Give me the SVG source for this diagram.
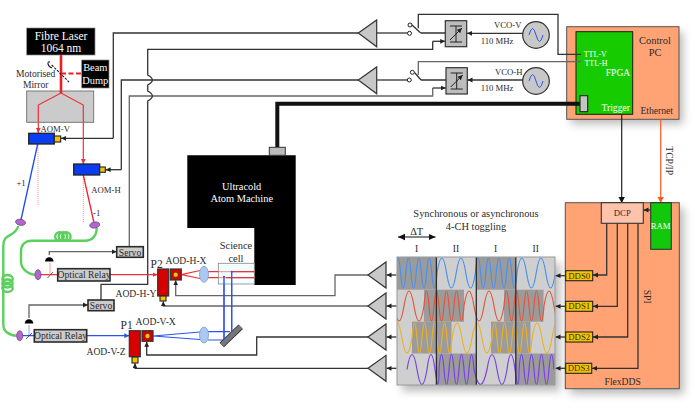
<svg xmlns="http://www.w3.org/2000/svg" width="695" height="409" viewBox="0 0 695 409">
<style>
text{font-family:"Liberation Serif","DejaVu Serif",serif;font-size:9.6px;fill:#2b2b2b;text-anchor:middle}
.w{fill:#fff}
.big{font-size:11.5px}
.lab{font-size:10.4px}
.s{font-size:8.7px}
.t{font-size:8px}
.c{fill:none;stroke:#333;stroke-width:1.3}
.cg{fill:none;stroke:#666;stroke-width:1.3}
.a{marker-end:url(#ak)}
.tri{fill:#c8c8c8;stroke:#333;stroke-width:1.2}
.box{fill:#ccc;stroke:#2a2a2a;stroke-width:1.6}
.red{fill:#d60000;stroke:#333;stroke-width:1.2}
.yel{fill:#f5c400;stroke:#222;stroke-width:1.1}
.blue{fill:#0a3cf0;stroke:#222;stroke-width:1.3}
.ov{fill:#b565cf;stroke:#6a4a80;stroke-width:.8}
.lens{fill:#a9c8f2;stroke:#7d9fd0;stroke-width:.8}
.r{fill:none;stroke:#f03038;stroke-width:1.2}
.b{fill:none;stroke:#2a52f0;stroke-width:1.2}
.fib{fill:none;stroke:#5ccf5c;stroke-width:2.4}
.lt{fill:#cfcfcf}
.dk{fill:#9b9b9b}
.w1,.w2,.w3,.w4{fill:none;stroke-width:1.2}
.w1{stroke:#4a90ee}.w2{stroke:#e2563c}.w3{stroke:#eeb022}.w4{stroke:#7c40e6}
</style>
<defs>
<marker id="ak" markerUnits="userSpaceOnUse" markerWidth="6" markerHeight="6" refX="5" refY="3" orient="auto"><path d="M0 .6L5 3L0 5.4z" fill="#222"/></marker>
<marker id="ar" markerUnits="userSpaceOnUse" markerWidth="6" markerHeight="6" refX="5" refY="3" orient="auto"><path d="M0 .6L5 3L0 5.4z" fill="#f03038"/></marker>
<marker id="ab" markerUnits="userSpaceOnUse" markerWidth="6" markerHeight="6" refX="5" refY="3" orient="auto"><path d="M0 .6L5 3L0 5.4z" fill="#2a52f0"/></marker>
<marker id="ao" markerUnits="userSpaceOnUse" markerWidth="8" markerHeight="8" refX="6" refY="4" orient="auto"><path d="M0 .8L6 4L0 7.2z" fill="#ff5a1e"/></marker>
<marker id="ak2" markerUnits="userSpaceOnUse" markerWidth="8" markerHeight="8" refX="6" refY="4" orient="auto"><path d="M0 .8L6 4L0 7.2z" fill="#111"/></marker>
<marker id="ds" markerUnits="userSpaceOnUse" markerWidth="8" markerHeight="8" refX="7" refY="4" orient="auto-start-reverse"><path d="M0 .8L7 4L0 7.2z" fill="#111"/></marker>
<filter id="sh" x="-20%" y="-20%" width="140%" height="140%"><feGaussianBlur stdDeviation="4"/></filter>
<clipPath id="pc"><rect x="397" y="257" width="158" height="128"/></clipPath>
</defs>

<g id="shadows" fill="#777" opacity=".5" filter="url(#sh)">
<rect x="571" y="32" width="112" height="92"/>
<rect x="570" y="208" width="114" height="186"/>
<rect x="402" y="263" width="158" height="128"/>
</g>

<g id="control-pc"><rect x="566.7" y="26.7" width="112.3" height="92.6" fill="#ffa274" stroke="#555" stroke-width="1"/>
<rect x="576" y="31.7" width="56.7" height="82.6" fill="#16cc00" stroke="#1a1a1a" stroke-width="1"/>
<text class="lab" x="655" y="43.5">Control</text><text class="lab" x="655" y="56">PC</text>
<text class="w" x="618" y="76">FPGA</text><text class="w t" x="595.3" y="56.5">TTL-V</text><text class="w t" x="596" y="66">TTL-H</text><text class="w" x="615.7" y="111">Trigger</text><text x="656.7" y="114">Ethernet</text></g>

<g id="connectors">
<path class="c" d="M358.3 33H113.3V138.3"/>
<path class="a c" d="M113.3 138.3H61"/>
<path class="c" d="M358.3 80H121.3V169.7"/>
<path class="a c" d="M121.3 169.7H105.6"/>
<path class="cg" d="M129.3 246.7V96H432.7V88"/>
<path class="a c" d="M432.7 88H445.8"/>
<path class="c" d="M101 300V284.3H147.7V101Q157 96 147.7 91V85Q157 80 147.7 75V49.3H432.7V41.3"/>
<path class="a c" d="M432.7 41.3H445.2"/>
<path d="M277.3 147V103.7H580" fill="none" stroke="#111" stroke-width="4"/>
<path class="c" d="M376.7 33H408"/>
<path class="c" d="M376.7 80H407.5"/>
<path class="c" d="M420.7 33H445.3M421 80H446"/>
<path class="c" d="M412 25L420.7 33M414.5 72.5L421 80"/>
<path class="c" d="M418.3 28.3V14.3H558V54.3H581"/>
<path class="cg" d="M418.3 75V61.7H581"/>
<path class="a c" d="M523 33.3H467"/>
<path class="a c" d="M523 80H467.5"/>
<path class="a cg" stroke-width="1.4" d="M368 275H335V295.7H175.7V280.3"/>
<path class="a cg" stroke-width="1.6" d="M368 306H163.3V301.3"/>
<path class="a c" d="M368 337H256.7V355H146.7V341.7"/>
<path class="a c" d="M368 368.3H135V363.3"/>
<path class="a c" d="M396.5 275H386.5"/><path class="a c" d="M396.5 306H386.5"/><path class="a c" d="M396.5 337H386.5"/><path class="a c" d="M396.5 368.3H386.5"/>
<path class="a c" d="M565.5 275.7H555.5"/><path class="a c" d="M565.5 306.3H555.5"/><path class="a c" d="M565.5 337H555.5"/><path class="a c" d="M565.5 368.3H555.5"/>
<path d="M621.7 114V203" fill="none" stroke="#222" stroke-width="1.2" marker-end="url(#ak2)"/>
<path d="M660.7 119V203" fill="none" stroke="#ff5a1e" stroke-width="1.2" marker-end="url(#ao)"/>
<path class="a cg" d="M49.3 255V251.7H116.7"/>
<path class="a cg" d="M29 318V305H88"/>
</g>
<rect id="trigger-port" x="580" y="95.7" width="7.7" height="16" fill="#c4c4c4" stroke="#222" stroke-width="1.1"/>

<g id="beams">
<path d="M61 55V93" stroke="#f01c24" stroke-width="2.6" fill="none"/>
<path d="M61 73.5H81" stroke="#f01c24" stroke-width="2" stroke-dasharray="5 2.5" fill="none"/>
<path class="r" d="M61 93L38.3 105V133" marker-end="url(#ar)"/>
<path class="r" d="M61 93L83.3 105V164" marker-end="url(#ar)"/>
<path d="M38 144V206M83.3 175V222" stroke="#ff9aa5" stroke-width="1" stroke-dasharray="1.2 .8" fill="none"/>
<path d="M37.7 144L20.5 222" stroke="#1f47f0" stroke-width="1.3" fill="none"/>
<path d="M83.3 175L93.8 222" stroke="#f02030" stroke-width="1.3" fill="none"/>
<path class="r" d="M38 274.7H57.7M110 274.7H157.5" marker-end="url(#ar)"/>
<path class="b" d="M19.7 335.7H34.3M86.7 335.7H129.3" marker-end="url(#ab)"/>
<path d="M50 275V263" stroke="#ff9aa5" stroke-width="1" fill="none"/>
<path d="M29 335V325" stroke="#8aa5f5" stroke-width="1" fill="none"/>
<path class="r" d="M181.3 274.7L200 270.5M181.3 274.7L200 278.5M207 271.7H254.3M207 277.7H254.3"/>
<path class="b" d="M153 336L200 332M153 336L200 339.5M208 331.7H230M208 340H224M224 340V276.7M231.7 331.7V271.7"/>
</g>

<g id="fibres">
<path class="fib" d="M96.7 228C96.7 236 92 240.7 85 240.7H31.7C25 240.7 21 245 21 251.7V261.7C21 268 27 274 35 274.7"/>
<path class="fib" d="M18.3 226C15 238 3.3 232 3.3 246V325C3.3 331 9 335.5 16.7 335.7"/>
<circle class="fib" cx="59.5" cy="236.6" r="4.3"/><circle class="fib" cx="63" cy="236.6" r="4.3"/><circle class="fib" cx="66.3" cy="236.6" r="4.3"/>
<ellipse class="fib" cx="7.5" cy="279" rx="5.2" ry="4"/><ellipse class="fib" cx="7.5" cy="283.5" rx="5.2" ry="4"/><ellipse class="fib" cx="7.5" cy="288" rx="5.2" ry="4"/>
<ellipse class="ov" cx="20.5" cy="222.3" rx="5" ry="3" transform="rotate(10 20.5 222.3)"/>
<ellipse class="ov" cx="94.7" cy="225" rx="5" ry="3" transform="rotate(-10 94.7 225)"/>
<ellipse class="ov" cx="38" cy="274.7" rx="3" ry="5"/>
<ellipse class="ov" cx="19.7" cy="335.7" rx="3" ry="5"/>
</g>

<g id="fibre-laser"><rect x="26.7" y="28" width="68.3" height="27" fill="#000" stroke="#888" stroke-width=".7"/><text class="w big" x="61" y="39.5">Fibre Laser</text><text class="w big" x="61" y="52">1064 nm</text></g>
<g id="beam-dump"><rect x="81.7" y="60" width="27.3" height="28" fill="#000" stroke="#888" stroke-width=".7"/><text class="w lab" x="95.3" y="70.5">Beam</text><text class="w lab" x="95.3" y="83.5">Dump</text></g>
<g id="mirror"><path d="M51.7 65L69 82" stroke="#222" stroke-width="1.1" stroke-dasharray="2.5 1.2" fill="none"/><path d="M50 62C47 61 47 66 52 68" stroke="#222" stroke-width="1.1" fill="none"/><text x="35.7" y="77">Motorised</text><text x="35.7" y="88">Mirror</text></g>
<g id="aom-stage"><rect x="26.7" y="91" width="67" height="31.3" fill="#cbcbcb" stroke="#6f6f6f" stroke-width=".9"/>
<path class="r" d="M61 93L38.3 105V122M61 93L83.3 105V122"/><path d="M61 91V93" stroke="#f01c24" stroke-width="2.6"/></g>
<g id="aom-v"><rect class="blue" x="28.7" y="133.3" width="25.6" height="10.7"/><rect class="yel" x="54.3" y="136" width="6.4" height="6"/><text class="s" x="55.3" y="131.5">AOM-V</text></g>
<g id="aom-h"><rect class="blue" x="73.7" y="164" width="26" height="11"/><rect class="yel" x="99.7" y="167" width="5.6" height="5.3"/><text class="s" x="106" y="192.5">AOM-H</text></g>
<text class="s" x="21" y="186">+1</text><text class="s" x="96.7" y="215.5">-1</text>

<g id="servo-h"><rect class="box" x="116.7" y="246.7" width="26.6" height="10.6"/><text x="130" y="255.5">Servo</text></g>
<g id="servo-v"><rect class="box" x="88" y="300" width="26" height="10.7"/><text x="101" y="308.8">Servo</text></g>
<g id="relay-h"><rect class="box" x="57.7" y="268.7" width="52.3" height="12.3"/><text x="84" y="278">Optical Relay</text></g>
<g id="relay-v"><rect class="box" x="34.3" y="329.7" width="52.4" height="12.3"/><text x="60.5" y="339">Optical Relay</text></g>
<g id="pd-h"><path d="M45 261.5A4.3 4.3 0 0 1 53.6 261.5z" fill="#000"/><path d="M47.5 278L53 272" stroke="#333" stroke-width=".8"/></g>
<g id="pd-v"><path d="M24.7 323.5A4.3 4.3 0 0 1 33.3 323.5z" fill="#000"/><path d="M26 339L32 333" stroke="#333" stroke-width=".8"/></g>

<g id="aod-h"><rect class="red" x="157.7" y="269" width="11" height="27"/><rect class="yel" x="160" y="296" width="6" height="5"/><rect class="red" x="170.3" y="269" width="11" height="11"/><circle cx="175.7" cy="274.7" r="2.5" fill="#f5c400" stroke="#333" stroke-width=".6"/>
<text class="big" x="156.7" y="267.5">P2</text><text x="186" y="263.5">AOD-H-X</text><text x="136" y="297">AOD-H-Y</text></g>
<g id="aod-v"><rect class="red" x="129.3" y="330.7" width="11" height="26"/><rect class="yel" x="132" y="357" width="6" height="6"/><rect class="red" x="142" y="330.7" width="11" height="10.6"/><circle cx="147.5" cy="336" r="2.5" fill="#f5c400" stroke="#333" stroke-width=".6"/>
<text class="big" x="126.7" y="328.7">P1</text><text x="155.7" y="325">AOD-V-X</text><text x="106" y="355">AOD-V-Z</text></g>
<ellipse class="lens" id="lens-h" cx="204" cy="274.3" rx="4.5" ry="8"/>
<ellipse class="lens" id="lens-v" cx="204" cy="335" rx="4.5" ry="8"/>
<path id="mirror-v" d="M221.7 345L240.7 326.7" stroke="#333" stroke-width="6.4" fill="none"/><path d="M221.7 345L240.7 326.7" stroke="#777" stroke-width="4.6" fill="none"/>

<g id="atom-machine"><path d="M187.3 155.3H295.7V285H254.3V228H187.3z" fill="#000"/><rect x="269.3" y="147.3" width="16" height="8" fill="#bbb" stroke="#333" stroke-width="1"/><text class="w lab" x="241.7" y="189.5">Ultracold</text><text class="w lab" x="241.7" y="202">Atom Machine</text></g>
<g id="science-cell"><rect x="218.3" y="263.3" width="36" height="20.7" fill="#e6ffff" fill-opacity=".55" stroke="#888" stroke-width=".8"/>
<path class="r" d="M232 271.7H254.3M226 277.7H254.3"/><path class="b" d="M224 340V276.7M231.7 332V271.7"/>
<circle cx="224" cy="276.7" r="1" fill="#2a52f0"/><circle cx="231.7" cy="271.7" r="1" fill="#2a52f0"/>
<text class="lab" x="236" y="248.5">Science</text><text class="lab" x="236" y="261.5">cell</text></g>

<g id="amp-h"><path class="tri" d="M358.3 33L376.7 20V46.7z"/></g>
<g id="amp-v"><path class="tri" d="M358.3 80L376.7 67V93.7z"/></g>
<g id="amp-0"><path class="tri" d="M368 275L386 262V288z"/></g>
<g id="amp-1"><path class="tri" d="M368 306L386 293V319z"/></g>
<g id="amp-2"><path class="tri" d="M368 337L386 324V350z"/></g>
<g id="amp-3"><path class="tri" d="M368 368.3L386 355.3V381.3z"/></g>

<g id="switch-v" fill="#fff" stroke="#222" stroke-width="1"><circle cx="410" cy="25" r="2"/><circle cx="409.5" cy="33.3" r="2"/></g>
<g id="switch-h" fill="#fff" stroke="#222" stroke-width="1"><circle cx="412.3" cy="72.3" r="2"/><circle cx="409.3" cy="80" r="2"/></g>

<g id="mod-v"><rect x="445.3" y="20.7" width="21.4" height="26" fill="#bdbdbd" stroke="#333" stroke-width="1.2"/><path d="M450 26H462M456 26V42M450 42H462M450 40L462 28" stroke="#222" stroke-width="1" fill="none" marker-end="url(#ak)"/></g>
<g id="mod-h"><rect x="446" y="67.7" width="21.3" height="26.3" fill="#bdbdbd" stroke="#333" stroke-width="1.2"/><path d="M450.7 73H462.7M456.7 73V89M450.7 89H462.7M450.7 87L462.7 75" stroke="#222" stroke-width="1" fill="none" marker-end="url(#ak)"/></g>
<g id="vco-v"><circle cx="536" cy="35" r="13.3" fill="#c8c8c8" stroke="#333" stroke-width="1.2"/><path d="M529 35Q532.5 22 536 35T543 35" fill="none" stroke="#2f55ee" stroke-width="1"/><text class="s" x="507.7" y="27.5">VCO-V</text><text class="s" x="497" y="44">110 MHz</text></g>
<g id="vco-h"><circle cx="536" cy="81" r="13.3" fill="#c8c8c8" stroke="#333" stroke-width="1.2"/><path d="M529 81Q532.5 68 536 81T543 81" fill="none" stroke="#2f55ee" stroke-width="1"/><text class="s" x="508.7" y="75">VCO-H</text><text class="s" x="497" y="91">110 MHz</text></g>

<text x="669.3" y="160.7" transform="rotate(90 669.3 160.7)" dy="3">TCP/IP</text>

<g id="toggling">
<rect class="lt" x="397" y="257" width="158" height="128"/>
<g class="dk"><rect x="397" y="257" width="39.5" height="32.7"/><rect x="476.3" y="257" width="39.5" height="32.7"/>
<rect x="424" y="289.7" width="40" height="32"/><rect x="504" y="289.7" width="39.5" height="32"/>
<rect x="412" y="321.7" width="39.5" height="31.8"/><rect x="491" y="321.7" width="39.5" height="31.8"/>
<rect x="436.5" y="353.5" width="39.8" height="31.5"/><rect x="516" y="353.5" width="39" height="31.5"/></g>
<g clip-path="url(#pc)">
<path class="w1" d="M395.4 273q2.6-30 5.2 0t5.2 0t5.2 0t5.2 0t5.2 0t5.2 0t5.2 0t5.2 0q4.8-30 9.6 0t9.6 0t9.6 0t9.6 0q2.6-30 5.2 0t5.2 0t5.2 0t5.2 0t5.2 0t5.2 0t5.2 0t5.2 0q4.8-30 9.6 0t9.6 0t9.6 0t9.6 0"/>
<path class="w2" d="M384 306q5-30 10 0t10 0t10 0t10 0q2.5-30 5 0t5 0t5 0t5 0t5 0t5 0t5 0t5 0q5-30 10 0t10 0t10 0t10 0q2.5-30 5 0t5 0t5 0t5 0t5 0t5 0t5 0t5 0q5-30 10 0t10 0"/>
<path class="w3" d="M372 338q5-30 10 0t10 0t10 0t10 0q2.5-30 5 0t5 0t5 0t5 0t5 0t5 0t5 0t5 0q5-30 10 0t10 0t10 0t10 0q2.5-30 5 0t5 0t5 0t5 0t5 0t5 0t5 0t5 0q5-30 10 0t10 0t10 0t10 0"/>
<path class="w4" d="M407 369.5q5-30 10 0t10 0q4-30 8 0t4 0q2.5-30 5 0t5 0t5 0t5 0t5 0t5 0t5 0q6.5 30 13 0q5-30 10 0t10 0q4-30 8 0t4 0q2.5-30 5 0t5 0t5 0t5 0t5 0t5 0t5 0"/>
</g>
<path d="M436.4 257V385M476.3 257V385M515.8 257V385" stroke="#2c2c2c" stroke-width="1.3" fill="none"/>
<rect x="397" y="257" width="158" height="128" fill="none" stroke="#9a9a9a" stroke-width="1"/>
<text class="lab" x="476" y="216.5">Synchronous or asynchronous</text><text class="lab" x="476" y="229.5">4-CH toggling</text>
<text class="lab" x="416.7" y="235">ΔT</text>
<path d="M398 237H435.5" stroke="#111" stroke-width="1" marker-start="url(#ds)" marker-end="url(#ds)" fill="none"/>
<text x="416.7" y="252">I</text><text x="456" y="252">II</text><text x="495.7" y="252">I</text><text x="535.7" y="252">II</text>
</g>

<g id="flexdds"><rect x="565.3" y="202.7" width="114" height="186" fill="#ffa274" stroke="#555" stroke-width="1"/>
<text x="622.7" y="385">FlexDDS</text>
<text x="647" y="296.7" dy="3" transform="rotate(90 647 296.7)">SPI</text></g>
<g id="fdds-lines"><path class="a c" d="M606.7 223.3V275H593"/><path class="a c" d="M617.3 223.3V306.3H593"/><path class="a c" d="M627.7 223.3V337H593"/><path class="a c" d="M638 223.3V368.3H592"/><path class="a c" d="M650.7 210H643.5"/></g>
<g id="dcp"><rect x="601.3" y="202.7" width="42" height="20.6" fill="#ffc2aa" stroke="#333" stroke-width="1.1"/><text class="s" x="622.3" y="215.7">DCP</text></g>
<g id="ram"><rect x="650.7" y="202.7" width="20.6" height="46.6" fill="#12c80a" stroke="#333" stroke-width="1.1"/><text class="w s" x="660.7" y="228.7">RAM</text></g>
<g id="dds0"><rect class="yel" x="565.7" y="270.7" width="27" height="10"/><text class="s" x="579.2" y="278.8">DDS0</text></g>
<g id="dds1"><rect class="yel" x="565.7" y="301.3" width="27" height="10"/><text class="s" x="579.2" y="309.4">DDS1</text></g>
<g id="dds2"><rect class="yel" x="565.7" y="332" width="27" height="10"/><text class="s" x="579.2" y="340.1">DDS2</text></g>
<g id="dds3"><rect class="yel" x="565.7" y="363.3" width="26" height="10"/><text class="s" x="578.7" y="371.4">DDS3</text></g>
</svg>
